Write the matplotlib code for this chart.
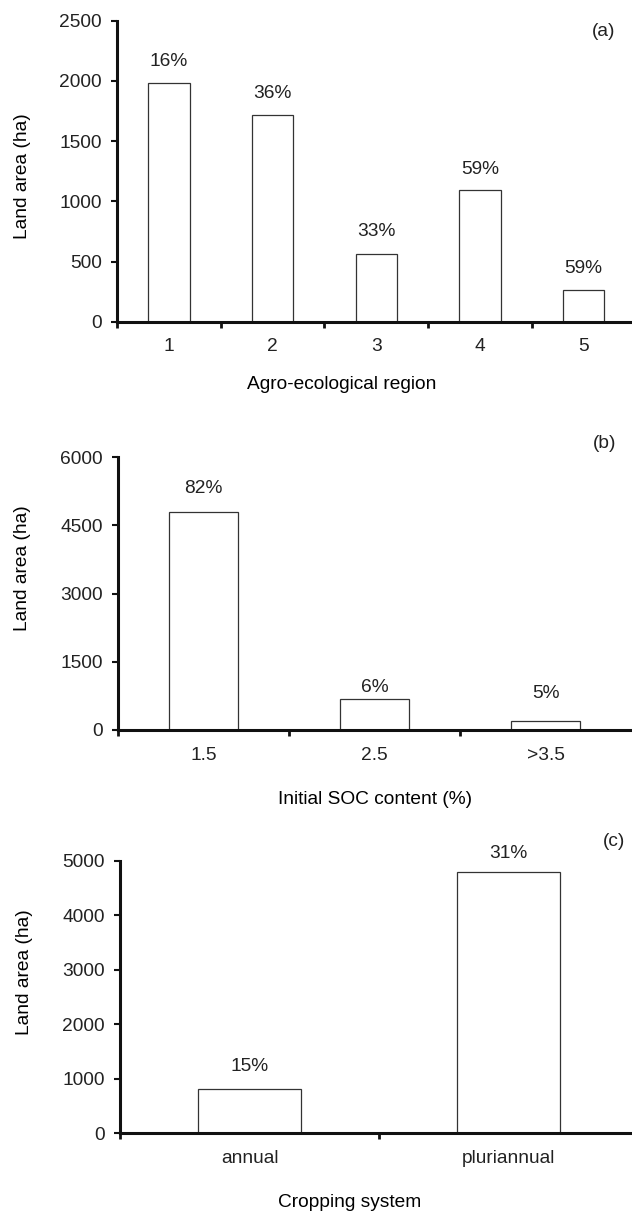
import numpy as np
import matplotlib
matplotlib.use("Agg")
import matplotlib.pyplot as plt

plt.rcParams['font.family'] = ['Liberation Sans', 'DejaVu Sans']
plt.rcParams['font.size'] = 13.8
plt.rcParams['text.color'] = '#222222'
plt.rcParams['xtick.color'] = '#111111'
plt.rcParams['ytick.color'] = '#111111'
plt.rcParams['xtick.labelcolor'] = '#222222'
plt.rcParams['ytick.labelcolor'] = '#222222'

# panel (a)
regions = ["1", "2", "3", "4", "5"]
area_a = [1980, 1720, 565, 1095, 265]
pct_a = ["16%", "36%", "33%", "59%", "59%"]

# panel (b)
soc = ["1.5", "2.5", ">3.5"]
area_b = [4800, 680, 200]
pct_b = ["82%", "6%", "5%"]

# panel (c)
systems = ["annual", "pluriannual"]
area_c = [810, 4800]
pct_c = ["15%", "31%"]

W, H = 632, 1213
fig = plt.figure(figsize=(W / 100, H / 100), dpi=100)


def px_axes(left, top, right, bottom):
    # pixel box -> figure fraction
    return fig.add_axes([left / W, 1 - bottom / H, (right - left) / W, (bottom - top) / H])


def panel(ax, cats, vals, pcts, pads, ymax, ystep, xlabel, xl_pos, yl_pos):
    n = len(cats)
    x = np.arange(n)
    bars = ax.bar(x, vals, width=0.4, color='white', edgecolor='#333333', linewidth=0.9)
    for b, p, off in zip(bars, pcts, pads):
        ax.annotate(p, (b.get_x() + b.get_width() / 2, b.get_height()),
                    xytext=(0, off), textcoords='offset points',
                    ha='center', va='center')
    ax.set_xlim(-0.5, n - 0.5)
    ax.set_ylim(0, ymax)
    ax.set_yticks(np.arange(0, ymax + 1, ystep))
    ax.set_xticks(np.arange(n) - 0.5)
    ax.set_xticklabels([])
    ax.set_xticks(x, minor=True)
    ax.set_xticklabels(cats, minor=True)
    ax.tick_params(axis='x', which='major', direction='out', length=4, width=2)
    ax.tick_params(axis='x', which='minor', length=0, pad=12)
    ax.tick_params(axis='y', direction='out', length=4, width=1.5, pad=7)
    for s in ['top', 'right']:
        ax.spines[s].set_visible(False)
    for s in ['left', 'bottom']:
        ax.spines[s].set_linewidth(2.2)
        ax.spines[s].set_color('#111111')
    ax.set_xlabel(xlabel, va='center')
    ax.xaxis.set_label_coords(*xl_pos)
    ax.set_ylabel("Land area (ha)", va='center')
    ax.yaxis.set_label_coords(*yl_pos)
    ax.patch.set_visible(False)


ax1 = px_axes(117, 20.7, 635.5, 321.7)
panel(ax1, regions, area_a, pct_a, [16, 15.5, 16, 15, 15], 2500, 500,
      "Agro-ecological region", (0.434, -0.21), (-0.183, 0.482))
fig.text(604 / W, 1 - 32 / H, "(a)", ha='center', va='center')

ax2 = px_axes(118, 457, 631, 730)
panel(ax2, soc, area_b, pct_b, [16.5, 8, 20], 6000, 1500,
      "Initial SOC content (%)", (0.501, -0.256), (-0.187, 0.593))
fig.text(605 / W, 1 - 443 / H, "(b)", ha='center', va='center')

ax3 = px_axes(120, 860.7, 638, 1133)
panel(ax3, systems, area_c, pct_c, [16, 13], 5000, 1000,
      "Cropping system", (0.444, -0.257), (-0.185, 0.592))
fig.text(614 / W, 1 - 842 / H, "(c)", ha='center', va='center')

fig.savefig("out.png", dpi=100)
